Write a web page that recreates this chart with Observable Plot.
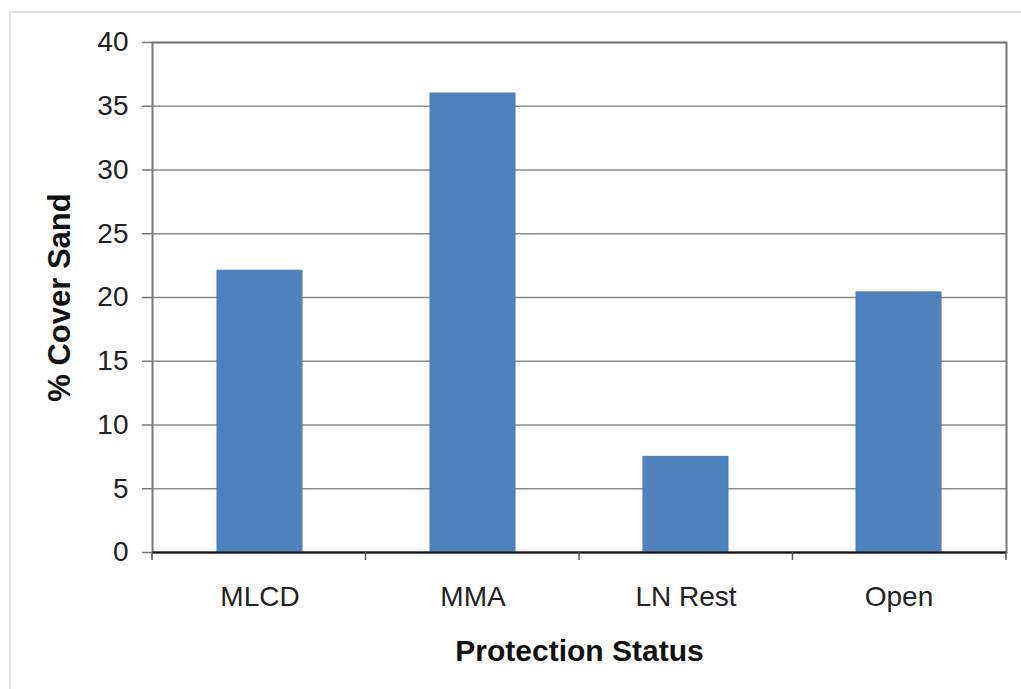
<!DOCTYPE html>
<html>
<head>
<meta charset="utf-8">
<script src="https://cdn.jsdelivr.net/npm/d3@7"></script>
<script src="https://cdn.jsdelivr.net/npm/@observablehq/plot@0.6"></script>
<style>
  html, body { margin: 0; padding: 0; background: #fff; }
  #wrap { position: relative; width: 1021px; height: 689px; overflow: hidden; }
  #border { position: absolute; left: 9px; top: 11px; width: 1100px; height: 800px; border: 2px solid #e3e3e3; box-sizing: border-box; }
  #chart { position: absolute; left: 0; top: 0; }
</style>
</head>
<body>
<div id="wrap"><div id="border"></div><div id="chart"></div></div>
<script>
const categories = ["MLCD", "MMA", "LN Rest", "Open"];
const values = [22.1, 36.0, 7.5, 20.4];
const yTicks = [0, 5, 10, 15, 20, 25, 30, 35, 40];
const xTitle = "Protection Status";
const yTitle = "% Cover Sand";

const data = categories.map((c, i) => ({category: c, value: values[i]}));
const font = "'Liberation Sans', Arial, sans-serif";

// category boundary ticks on the bottom axis
function boundaryTicks(index, scales, values, dims) {
  const g = d3.create("svg:g");
  const x0 = dims.marginLeft, x1 = dims.width - dims.marginRight;
  const y0 = dims.height - dims.marginBottom;
  const n = categories.length;
  for (let i = 0; i <= n; i++) {
    const x = x0 + (x1 - x0) * i / n;
    g.append("line").attr("x1", x).attr("x2", x).attr("y1", y0).attr("y2", y0 + 8)
      .attr("stroke", "#555").attr("stroke-width", 1.5);
  }
  return g.node();
}

const chart = Plot.plot({
  width: 1021,
  height: 689,
  marginLeft: 152,
  marginRight: 15,
  marginTop: 42,
  marginBottom: 137,
  style: {fontFamily: font, background: "transparent", color: "#222"},
  x: {domain: categories, paddingInner: 0.6, paddingOuter: 0.3, label: null},
  y: {domain: [0, 40], label: null},
  marks: [
    Plot.gridY(yTicks, {stroke: "#8c8c8c", strokeOpacity: 1, strokeWidth: 1.5}),
    Plot.frame({stroke: "#777", strokeWidth: 2}),
    Plot.barY(data, {x: "category", y: "value", fill: "#4F81BD", stroke: "#4a7ab5", strokeWidth: 1}),
    Plot.ruleY([0], {stroke: "#111", strokeWidth: 2}),
    boundaryTicks,
    Plot.axisY(yTicks, {tickSize: 10, tickPadding: 14, fontSize: 28, stroke: "#777", strokeWidth: 1.5, fill: "#222", label: null}),
    Plot.axisX({tickSize: 0, tickPadding: 34, fontSize: 28, fill: "#222", label: null}),
    Plot.text([yTitle], {frameAnchor: "left", textAnchor: "middle", dx: -92, rotate: -90, fontSize: 31, fontWeight: "bold", fill: "#111"}),
    Plot.text([xTitle], {frameAnchor: "bottom", textAnchor: "middle", dy: 108, fontSize: 30, fontWeight: "bold", fill: "#111"})
  ]
});
document.getElementById("chart").appendChild(chart);
</script>
</body>
</html>
